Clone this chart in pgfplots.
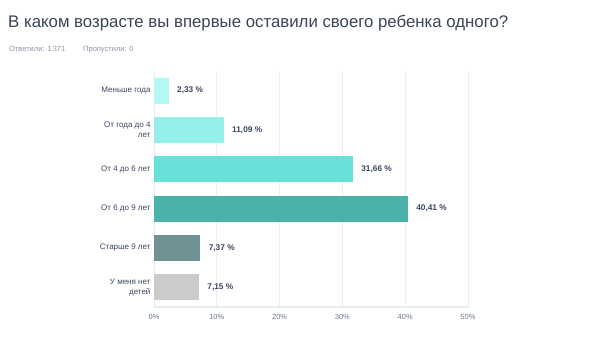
\documentclass[border=0pt]{standalone}
\usepackage{pgfplots}
\pgfplotsset{compat=1.18}
\usepackage{fontspec}
\setmainfont{Liberation Sans}
\definecolor{cA}{HTML}{B4F8F3}
\definecolor{cB}{HTML}{95F0EA}
\definecolor{cC}{HTML}{68E1DA}
\definecolor{cD}{HTML}{4BB2A9}
\definecolor{cE}{HTML}{6E9194}
\definecolor{cF}{HTML}{CBCBCB}
\definecolor{titlec}{HTML}{3A4556}
\definecolor{subc}{HTML}{8A94A6}
\definecolor{labc}{HTML}{3B4660}
\definecolor{tickc}{HTML}{6B7A90}
\definecolor{gridc}{HTML}{ECECEC}
\begin{document}
\begin{tikzpicture}
\useasboundingbox[fill=white] (0,0) rectangle (590pt,356pt);
\node[anchor=base west, inner sep=0, font=\fontsize{16.8}{20}\selectfont, text=titlec] at (8pt,328pt) {В каком возрасте вы впервые оставили своего ребенка одного?};
\node[anchor=base west, inner sep=0, font=\fontsize{7.5}{9}\selectfont, text=subc] at (9pt,304pt) {Ответили: 1\,371};
\node[anchor=base west, inner sep=0, font=\fontsize{7.5}{9}\selectfont, text=subc] at (83pt,304pt) {Пропустили: 0};
\begin{axis}[
  at={(154pt,49pt)}, anchor=south west,
  scale only axis, width=314pt, height=236pt,
  xbar, bar width=0.66, bar shift=0pt,
  xmin=0, xmax=50, ymin=-0.5, ymax=5.5, y dir=reverse,
  xtick={0,10,20,30,40,50},
  xticklabel={\pgfmathprintnumber{\tick}\%},
  ytick={0,1,2,3,4,5},
  yticklabels={Меньше года,{От года до 4\\лет},От 4 до 6 лет,От 6 до 9 лет,Старше 9 лет,{У меня нет\\детей}},
  yticklabel style={align=right, font=\fontsize{8}{10}\selectfont, text=labc},
  xticklabel style={font=\fontsize{7.5}{9}\selectfont, text=tickc, yshift=-4pt},
  /pgf/number format/assume math mode=true,
  major tick length=0,
  xmajorgrids, grid style={gridc, line width=0.8pt},
  axis x line*=bottom, axis y line*=left,
  x axis line style={draw=gridc, line width=1.2pt, -},
  y axis line style={draw=gridc, line width=0.8pt, -},
  nodes near coords style={anchor=west, xshift=5pt, font=\bfseries\fontsize{8.3}{10}\selectfont, text=labc},
  point meta=x,
  nodes near coords={\pgfmathprintnumber[fixed, fixed zerofill, precision=2, use comma, assume math mode=true]{\pgfplotspointmeta} \%},
]
\addplot[fill=cA, draw=none] coordinates {(2.33,0)};
\addplot[fill=cB, draw=none] coordinates {(11.09,1)};
\addplot[fill=cC, draw=none] coordinates {(31.66,2)};
\addplot[fill=cD, draw=none] coordinates {(40.41,3)};
\addplot[fill=cE, draw=none] coordinates {(7.37,4)};
\addplot[fill=cF, draw=none] coordinates {(7.15,5)};
\end{axis}
\end{tikzpicture}
\end{document}
